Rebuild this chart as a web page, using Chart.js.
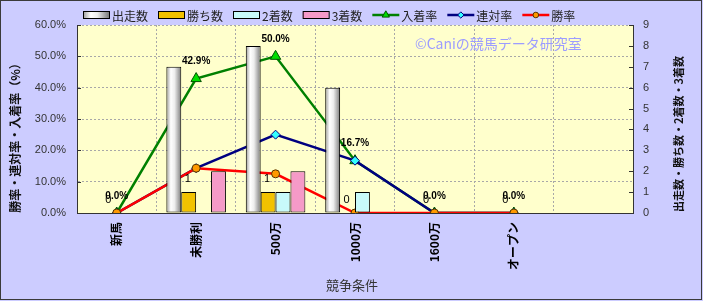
<!DOCTYPE html>
<html>
<head>
<meta charset="utf-8">
<script src="https://cdn.jsdelivr.net/npm/chart.js@4"></script>
<style>
html, body { margin: 0; padding: 0; background: #ccccff; }
</style>
</head>
<body>
<canvas id="c" width="703" height="301"></canvas>
<script>
// data
var categories = ['新馬', '未勝利', '500万', '1000万', '1600万', 'オープン', '']
var runs      = [0, 7, 8, 6, 0, 0]
var wins      = [0, 1, 1, 0, 0, 0]
var seconds   = [0, 0, 1, 1, 0, 0]
var thirds    = [0, 2, 2, 0, 0, 0]
var showRate  = [0.0, 42.9, 50.0, 16.7, 0.0, 0.0]
var placeRate = [0.0, 14.3, 25.0, 16.7, 0.0, 0.0]
var winRate   = [0.0, 14.3, 12.5, 0.0, 0.0, 0.0]
var pctTicks   = [0, 10, 20, 30, 40, 50, 60]
var countTicks = [0, 1, 2, 3, 4, 5, 6, 7, 8, 9]

var JP = '"Noto Sans CJK JP", sans-serif'
var LAT = '"Liberation Sans", "Noto Sans CJK JP", sans-serif'
var CAT_PCT = 0.75
var BAR_COUNT = 4

//cylinder-ish fill for the runs bars
function runsFill(ctx) {
	var chart = ctx.chart
	if (ctx.dataIndex === undefined || !chart.chartArea) return '#d8d8d8'
	var xs = chart.scales.x
	var step = xs.getPixelForValue(1) - xs.getPixelForValue(0)
	var chunk = step * CAT_PCT / BAR_COUNT
	var x0 = xs.getPixelForValue(ctx.dataIndex) - chunk * BAR_COUNT / 2
	return cylGrad(chart.ctx, x0, x0 + chunk)
}
function cylGrad(c, x0, x1) {
	var g = c.createLinearGradient(x0, 0, x1, 0)
	g.addColorStop(0, '#9a9a9a')
	g.addColorStop(0.3, '#ffffff')
	g.addColorStop(0.55, '#eeeeee')
	g.addColorStop(1, '#7c7c7c')
	return g
}

var bgPlugin = {
	id: 'bg',
	beforeDraw: function (chart) {
		var c = chart.ctx, a = chart.chartArea
		c.save()
		c.fillStyle = '#ccccff'
		c.fillRect(0, 0, chart.width, chart.height)
		c.fillStyle = '#ffffcc'
		c.fillRect(a.left, a.top, a.right - a.left, a.bottom - a.top)
		c.restore()
	}
}

var labelPlugin = {
	id: 'labels',
	afterDatasetsDraw: function (chart) {
		var c = chart.ctx
		c.save()
		c.fillStyle = '#000'
		c.textAlign = 'center'
		c.textBaseline = 'middle'
		c.font = '11px ' + LAT
		chart.getDatasetMeta(1).data.forEach(function (bar, i) {
			c.fillText(String(wins[i]), bar.x - 1, bar.y - 13)
		})
		c.font = 'bold 10px ' + LAT
		chart.getDatasetMeta(4).data.forEach(function (pt, i) {
			c.fillText(showRate[i].toFixed(1) + '%', pt.x, pt.y - 17)
		})
		c.restore()
	}
}

var decoPlugin = {
	id: 'deco',
	afterDraw: function (chart) {
		var c = chart.ctx, a = chart.chartArea
		c.save()
		// inward ticks
		c.strokeStyle = '#333'
		c.lineWidth = 1
		c.beginPath()
		chart.scales.y.ticks.forEach(function (t) {
			var y = Math.round(chart.scales.y.getPixelForValue(t.value)) + 0.5
			c.moveTo(a.left, y); c.lineTo(a.left + 4, y)
		})
		chart.scales.y2.ticks.forEach(function (t) {
			var y = Math.round(chart.scales.y2.getPixelForValue(t.value)) + 0.5
			c.moveTo(a.right - 4, y); c.lineTo(a.right, y)
		})
		c.stroke()

		// watermark
		c.fillStyle = '#9c9cff'
		c.font = '14px ' + JP
		c.textAlign = 'left'
		c.textBaseline = 'middle'
		c.fillText('©Caniの競馬データ研究室', 415, 44)

		// axis titles
		c.fillStyle = '#111'
		c.textAlign = 'center'
		c.font = 'bold 12px ' + JP
		c.save(); c.translate(15, 135); c.rotate(-Math.PI / 2)
		c.fillText('勝率・連対率・入着率（%）', 0, 0); c.restore()
		c.font = 'bold 11px ' + JP
		c.save(); c.translate(679, 134); c.rotate(-Math.PI / 2)
		c.fillText('出走数・勝ち数・2着数・3着数', 0, 0); c.restore()
		c.fillStyle = '#333'
		c.font = '13px ' + JP
		c.fillText('競争条件', 352, 285)

		// legend
		var x = 83, y = 15
		c.font = '12px ' + JP
		c.textAlign = 'left'
		chart.data.datasets.forEach(function (ds) {
			if (ds.type === 'line') {
				c.strokeStyle = ds.borderColor
				c.lineWidth = 2.5
				c.beginPath(); c.moveTo(x, y); c.lineTo(x + 27, y); c.stroke()
				c.fillStyle = ds.pointBackgroundColor
				c.strokeStyle = ds.pointBorderColor
				c.lineWidth = 1
				Chart.helpers.drawPoint(c, { pointStyle: ds.pointStyle, radius: ds.pointRadius * 0.7, borderWidth: 1, rotation: 0 }, x + 13.5, y)
			} else {
				c.fillStyle = ds.legendColor === 'cyl' ? cylGrad(c, x, x + 26) : ds.legendColor
				c.fillRect(x, y - 3, 26, 6)
				c.strokeStyle = '#000'
				c.lineWidth = 1
				c.strokeRect(x + 0.5, y - 3.5, 26, 7)
			}
			x += 29
			c.fillStyle = '#222'
			c.fillText(ds.label, x, y + 1)
			x += c.measureText(ds.label).width + 10
		})

		// outer frame
		c.strokeStyle = '#3a3a3a'
		c.lineWidth = 1
		c.strokeRect(0.5, 0.5, 701, 299)
		c.restore()
	}
}

var barCommon = {
	type: 'bar',
	yAxisID: 'y2',
	borderColor: '#000',
	borderWidth: 1,
	borderSkipped: false,
	categoryPercentage: CAT_PCT,
	barPercentage: 1,
	order: 0
}

function lineSet(label, values, color, style, fill, edge, radius, order) {
	return {
		type: 'line', label: label, data: values, yAxisID: 'y',
		borderColor: color, borderWidth: 2.5, tension: 0, fill: false,
		pointStyle: style, pointRadius: radius, pointBackgroundColor: fill,
		pointBorderColor: edge, pointBorderWidth: 1, order: order
	}
}

var datasets = [
	Object.assign({ label: '出走数', data: runs, backgroundColor: runsFill, legendColor: 'cyl' }, barCommon),
	Object.assign({ label: '勝ち数', data: wins, backgroundColor: '#f2c200', legendColor: '#f2c200' }, barCommon),
	Object.assign({ label: '2着数', data: seconds, backgroundColor: '#c8fafa', legendColor: '#c8fafa' }, barCommon),
	Object.assign({ label: '3着数', data: thirds, backgroundColor: '#f59ac8', legendColor: '#f59ac8' }, barCommon),
	lineSet('入着率', showRate, '#008000', 'triangle', '#00dd00', '#005500', 6, 3),
	lineSet('連対率', placeRate, '#000080', 'rectRot', '#33ffff', '#000080', 4.5, 2),
	lineSet('勝率', winRate, '#ff0000', 'circle', '#ff9900', '#553300', 4, 1)
]

var gridDash = { color: '#333', width: 1, dash: [2, 2] }

new Chart(document.getElementById('c'), {
	type: 'bar',
	data: { labels: categories, datasets: datasets },
	options: {
		responsive: false,
		animation: false,
		events: [],
		layout: { padding: { top: 25, left: 0, right: 0, bottom: 0 } },
		plugins: { legend: { display: false }, tooltip: { enabled: false } },
		scales: {
			x: {
				offset: true,
				grid: { offset: true, color: '#a8a8a8', drawTicks: false, z: -1 },
				border: gridDash,
				ticks: {
					autoSkip: false, minRotation: 90, maxRotation: 90, padding: 9,
					color: '#000', font: { family: JP, size: 12, weight: 'bold' }
				},
				afterFit: function (s) { s.height = 88 }
			},
			y: {
				position: 'left',
				min: pctTicks[0], max: pctTicks[pctTicks.length - 1],
				grid: { color: '#a8a8a8', drawTicks: false, z: -1 },
				border: gridDash,
				ticks: {
					stepSize: pctTicks[1] - pctTicks[0], padding: 11, color: '#333',
					font: { family: LAT, size: 11 },
					callback: function (v) { return v.toFixed(1) + '%' }
				},
				afterFit: function (s) { s.width = 77 }
			},
			y2: {
				position: 'right',
				min: countTicks[0], max: countTicks[countTicks.length - 1],
				grid: { drawOnChartArea: false, drawTicks: false },
				border: { color: '#333', width: 1 },
				ticks: {
					stepSize: 1, padding: 10, color: '#333',
					font: { family: LAT, size: 11 }
				},
				afterFit: function (s) { s.width = 70 }
			}
		}
	},
	plugins: [bgPlugin, labelPlugin, decoPlugin]
})
</script>
</body>
</html>
